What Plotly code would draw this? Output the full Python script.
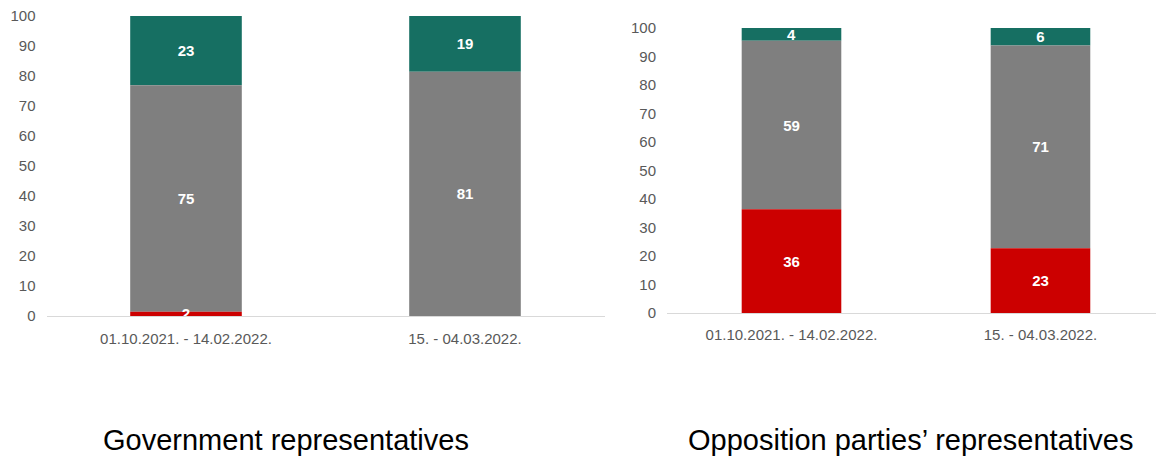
import plotly.graph_objects as go

periods = ["01.10.2021. - 14.02.2022.", "15. - 04.03.2022."]

# segment heights
gov_red = [1.4, 0]
gov_gray = [75.5, 81.4]
gov_teal = [23.1, 18.6]
# printed labels
gov_red_lbl = ["2", ""]
gov_gray_lbl = ["75", "81"]
gov_teal_lbl = ["23", "19"]

opp_red = [36.4, 22.7]
opp_gray = [59.1, 71.2]
opp_teal = [4.5, 6.1]
opp_red_lbl = ["36", "23"]
opp_gray_lbl = ["59", "71"]
opp_teal_lbl = ["4", "6"]

panel_titles = ["Government representatives", "Opposition parties\u2019 representatives"]

RED = "#CC0000"
GRAY = "#7F7F7F"
TEAL = "#166F62"

W, H = 1156, 456

fig = go.Figure()
panels = [
    ("x", "y", gov_red, gov_gray, gov_teal, gov_red_lbl, gov_gray_lbl, gov_teal_lbl),
    ("x2", "y2", opp_red, opp_gray, opp_teal, opp_red_lbl, opp_gray_lbl, opp_teal_lbl),
]
for xa, ya, red, gray, teal, rl, gl, tl in panels:
    base_red = [0, 0]
    base_gray = list(red)
    base_teal = [r + g for r, g in zip(red, gray)]
    # draw top segments first so the bottom label stays on top
    for vals, base, labels, col in [(teal, base_teal, tl, TEAL),
                                    (gray, base_gray, gl, GRAY),
                                    (red, base_red, rl, RED)]:
        fig.add_trace(go.Bar(
            x=[0, 1], y=vals, base=base, xaxis=xa, yaxis=ya,
            marker=dict(color=col, line=dict(width=0)),
            width=0.4,
            text=labels, textposition="inside", insidetextanchor="middle",
            textangle=0,
            textfont=dict(family="Liberation Sans, Arial", size=15, color="white", weight="bold"),
            constraintext="none",
            cliponaxis=False,
            showlegend=False, hoverinfo="skip",
        ))

tickfont = dict(family="Liberation Sans, Arial", size=15, color="#595959")

fig.update_layout(
    width=W, height=H,
    margin=dict(l=0, r=0, t=0, b=0),
    paper_bgcolor="white", plot_bgcolor="white",
    barmode="overlay",
    uniformtext=dict(minsize=15, mode="show"),
    xaxis=dict(domain=[46.5 / W, 604.5 / W], range=[-0.5, 1.5],
               tickvals=[0, 1], ticktext=periods, tickfont=tickfont,
               showline=True, linecolor="#D9D9D9", linewidth=1,
               showgrid=False, zeroline=False, ticks="", ticklabelstandoff=9,
               automargin=False, anchor="y"),
    yaxis=dict(domain=[(H - 316) / H, (H - 16) / H], range=[0, 100], dtick=10,
               tickfont=tickfont, showgrid=False, zeroline=False, showline=False,
               ticks="", ticklabelstandoff=10, automargin=False, anchor="x"),
    xaxis2=dict(domain=[667 / W, 1.0], range=[-0.5, 1.464],
                tickvals=[0, 1], ticktext=periods, tickfont=tickfont,
                showline=True, linecolor="#D9D9D9", linewidth=1,
                showgrid=False, zeroline=False, ticks="", ticklabelstandoff=8,
                automargin=False, anchor="y2"),
    yaxis2=dict(domain=[(H - 313) / H, (H - 28) / H], range=[0, 100], dtick=10,
                tickfont=tickfont, showgrid=False, zeroline=False, showline=False,
                ticks="", ticklabelstandoff=10, automargin=False, anchor="x2"),
    annotations=[
        dict(text=panel_titles[0], x=286 / W, y=(H - 440) / H, xref="paper", yref="paper",
             showarrow=False, xanchor="center", yanchor="middle",
             font=dict(family="Liberation Sans, Arial", size=29, color="black")),
        dict(text=panel_titles[1], x=910 / W, y=(H - 440) / H, xref="paper", yref="paper",
             showarrow=False, xanchor="center", yanchor="middle",
             font=dict(family="Liberation Sans, Arial", size=29, color="black")),
    ],
)

fig.write_html("out.html")
